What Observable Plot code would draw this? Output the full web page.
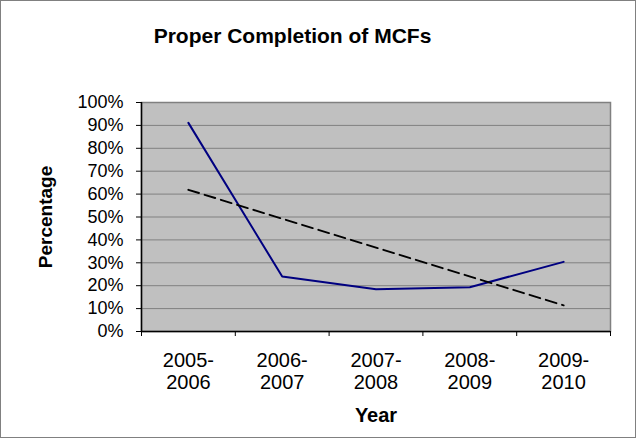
<!DOCTYPE html>
<html>
<head>
<meta charset="utf-8">
<script src="https://cdn.jsdelivr.net/npm/d3@7"></script>
<script src="https://cdn.jsdelivr.net/npm/@observablehq/plot@0.6"></script>
<style>
  html, body { margin: 0; padding: 0; background: #fff; }
  #wrap { position: relative; width: 639px; height: 441px; }
  #border { position: absolute; left: 0; top: 0; width: 634px; height: 436px; border: 1px solid #808080; pointer-events: none; }
  svg { font-family: "Liberation Sans", Arial, sans-serif; }
</style>
</head>
<body>
<div id="wrap"><div id="border"></div></div>
<script>
const title = "Proper Completion of MCFs";
const yLabel = "Percentage";
const xLabel = "Year";
const categories = ["2005-\n2006", "2006-\n2007", "2007-\n2008", "2008-\n2009", "2009-\n2010"];
const values = [0.911, 0.240, 0.184, 0.193, 0.304];
const yTicks = [0, 0.1, 0.2, 0.3, 0.4, 0.5, 0.6, 0.7, 0.8, 0.9, 1.0];

const rows = categories.map((c, i) => ({idx: i + 1, label: c, value: values[i]}));
const boundaries = d3.range(0.5, categories.length + 1, 1);

const chart = Plot.plot({
  width: 639,
  height: 441,
  marginLeft: 141,
  marginRight: 29,
  marginTop: 102,
  marginBottom: 110,
  style: {fontFamily: "'Liberation Sans', Arial, sans-serif", background: "transparent"},
  x: {type: "linear", domain: [0.5, categories.length + 0.5], axis: null},
  y: {domain: [0, 1], axis: null},
  marks: [
    Plot.frame({fill: "#c0c0c0", stroke: "#808080", strokeWidth: 1.5}),
    Plot.gridY(yTicks, {stroke: "#808080", strokeOpacity: 1, strokeWidth: 1}),
    Plot.axisY(yTicks, {
      label: null, tickSize: 5, tickPadding: 13, stroke: "#000",
      tickFormat: d3.format(".0%"), fontSize: 18, fill: "#000",
      style: {letterSpacing: "1px"}
    }),
    Plot.axisX(boundaries, {label: null, tickSize: 5, tickFormat: () => "", stroke: "#000"}),
    Plot.ruleX([0.5], {stroke: "#000", strokeWidth: 1.5}),
    Plot.ruleY([0], {stroke: "#000", strokeWidth: 1.5}),
    Plot.text(rows, {
      x: "idx", text: "label", frameAnchor: "bottom", lineAnchor: "top",
      dy: 20, fontSize: 20, lineHeight: 1.1, fill: "#000"
    }),
    Plot.line(rows, {x: "idx", y: "value", stroke: "#000080", strokeWidth: 2}),
    Plot.linearRegressionY(rows, {
      x: "idx", y: "value", ci: 0, stroke: "#000", strokeWidth: 2,
      strokeDasharray: "11,6"
    }),
    Plot.text([title], {
      frameAnchor: "top-left", dx: 151, dy: -60, lineAnchor: "bottom",
      textAnchor: "middle", fontSize: 21, fontWeight: "bold", fill: "#000"
    }),
    Plot.text([yLabel], {
      frameAnchor: "left", dx: -96, rotate: -90, textAnchor: "middle",
      fontSize: 19, fontWeight: "bold", fill: "#000"
    }),
    Plot.text([xLabel], {
      frameAnchor: "bottom", dy: 90, textAnchor: "middle", lineAnchor: "bottom",
      fontSize: 20, fontWeight: "bold", fill: "#000"
    })
  ]
});
document.getElementById("wrap").prepend(chart);
</script>
</body>
</html>
